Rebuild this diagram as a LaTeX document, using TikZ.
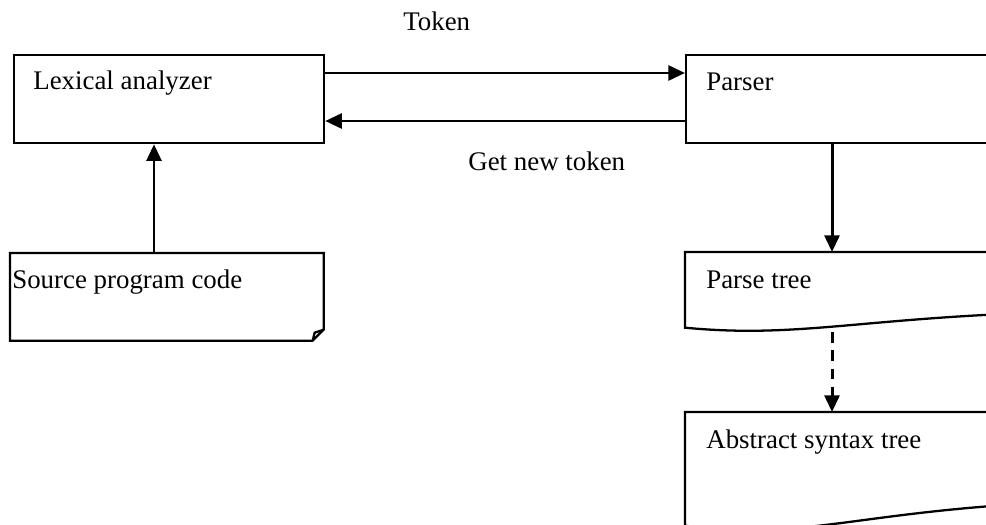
\documentclass[tikz,border=0pt]{standalone}
\usepackage{fontspec}
\setmainfont{Liberation Serif}
\usetikzlibrary{arrows.meta,calc}

\tikzset{
  box/.style={draw, line width=1.3pt, inner sep=0pt, anchor=north west},
  docshape/.style={inner sep=0pt, anchor=north west},
  docline/.style={line width=1.3pt},
  txt/.style={anchor=base west, inner sep=0pt, font=\fontsize{15.3}{18}\selectfont},
  arr/.style={line width=1.7pt, -{Triangle[length=9.5pt,width=8.5pt]}},
}

\begin{document}
\begin{tikzpicture}[x=0.02cm, y=-0.02cm]
  \useasboundingbox (0,0) rectangle (986,524);
  \clip (0,0) rectangle (986,524);

  % boxes
  \node[box, minimum width=6.2cm, minimum height=1.76cm] (lex) at (13,54) {};
  \node[box, minimum width=6.2cm, minimum height=1.76cm] (parser) at (685,54) {};
  \node[docshape, minimum width=6.26cm, minimum height=1.74cm] (src) at (10,253) {};
  \node[docshape, minimum width=6.5cm, minimum height=1.5cm] (ptree) at (685,252) {};
  \node[docshape, minimum width=6.5cm, minimum height=2.26cm] (ast) at (685,412) {};

  % source code: folded corner
  \draw[docline] (src.north west) -- (src.north east) -- ($(src.south east)+(0,-11)$)
        -- ($(src.south east)+(-11,0)$) -- (src.south west) -- cycle;
  \draw[docline] ($(src.south east)+(0,-11)$) -- ($(src.south east)+(-9,-8)$)
        -- ($(src.south east)+(-11,0)$);

  % documents with wavy bottom
  \draw[docline] (ptree.south west) .. controls +(105,10) and +(-160,7) .. ($(ptree.south east)+(0,-14)$)
        -- (ptree.north east) -- (ptree.north west) -- cycle;
  \draw[docline] (ast.south west) .. controls +(105,15) and +(-160,10.5) .. ($(ast.south east)+(0,-21)$)
        -- (ast.north east) -- (ast.north west) -- cycle;
  \coordinate (ptreeB) at (832,332);

  % texts
  \node[txt] (lexT) at (33,89) {Lexical analyzer};
  \node[txt] (parserT) at (706,90) {Parser};
  \node[txt] (srcT) at (12,288) {Source program code};
  \node[txt] (ptreeT) at (706,288) {Parse tree};
  \node[txt] (astT) at (706,448) {Abstract syntax tree};
  \node[txt] (tokT) at (403,31) {Token};
  \node[txt] (getT) at (468,170) {Get new token};

  % arrows
  \draw[arr] (lex.east |- 0,73) -- (parser.west |- 0,73);
  \draw[arr] (parser.west |- 0,121) -- (lex.east |- 0,121);
  \draw[arr] (src.north -| 154,0) -- (lex.south -| 154,0);
  \draw[arr] (parser.south -| 832,0) -- (ptree.north -| 832,0);
  \draw[arr, dash pattern=on 6pt off 4.5pt] (ptreeB) -- (ast.north -| 832,0);

\end{tikzpicture}
\end{document}
